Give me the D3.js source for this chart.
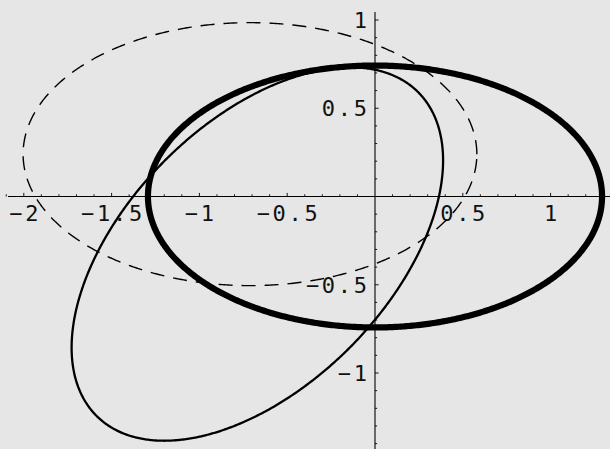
<!DOCTYPE html>
<html>
<head>
<meta charset="utf-8">
<script src="https://cdn.jsdelivr.net/npm/d3@7"></script>
<style>
html,body{margin:0;padding:0;background:#e6e6e6;}
svg{display:block;}
</style>
</head>
<body>
<svg id="chart" width="610" height="449"></svg>
<script>
// ---- data ----
const curveNames   = ["thick", "thin", "dashed"];
const centerX      = [0.000, -0.670, -0.712];
const centerY      = [0.000, -0.326,  0.240];
const semiAxisA    = [1.293,  1.296,  1.292];
const semiAxisB    = [0.742,  0.747,  0.745];
const rotationDeg  = [0, 45, 0];

const xMajorTicks  = [-2, -1.5, -1, -0.5, 0.5, 1];
const xTickLabels  = ["\u22122", "\u22121.5", "\u22121", "\u22120.5", "0.5", "1"];
const yMajorTicks  = [1, 0.5, -0.5, -1];
const yTickLabels  = ["1", "0.5", "\u22120.5", "\u22121"];

// ---- layout ----
const W = 610, H = 449;
const x0px = 375, y0px = 196.5, kx = 175.6, ky = 176.5;
const x = d3.scaleLinear().domain([-x0px / kx, (W - x0px) / kx]).range([0, W]);
const y = d3.scaleLinear().domain([-(H - y0px) / ky, y0px / ky]).range([H, 0]);

const svg = d3.select("#chart");
svg.append("rect").attr("width", W).attr("height", H).attr("fill", "#e6e6e6");

const axisColor = "#000";
const font = "'DejaVu Sans Mono', monospace";
const fs = 22, ls = 2.7;

// axes lines
svg.append("line").attr("x1", x(-2.09)).attr("x2", W).attr("y1", y(0)).attr("y2", y(0))
  .attr("stroke", axisColor).attr("stroke-width", 1.1);
svg.append("line").attr("x1", x(0)).attr("x2", x(0)).attr("y1", y(1.045)).attr("y2", H)
  .attr("stroke", axisColor).attr("stroke-width", 1.1);

// minor ticks
const xMinor = d3.range(-21, 14).map(i => i / 10).filter(v => Math.abs(v) > 1e-9);
const yMinor = d3.range(-14, 11).map(i => i / 10).filter(v => Math.abs(v) > 1e-9);
const isMajor = v => Math.abs(v * 2 - Math.round(v * 2)) < 1e-9;

svg.append("g").selectAll("line").data(xMinor).join("line")
  .attr("x1", d => x(d)).attr("x2", d => x(d))
  .attr("y1", y(0)).attr("y2", d => y(0) - (isMajor(d) ? 3.6 : 2.2))
  .attr("stroke", axisColor).attr("stroke-width", 0.9);
svg.append("g").selectAll("line").data(yMinor).join("line")
  .attr("y1", d => y(d)).attr("y2", d => y(d))
  .attr("x1", x(0)).attr("x2", d => x(0) + (isMajor(d) ? 3.6 : 2.2))
  .attr("stroke", axisColor).attr("stroke-width", 0.9);

// tick labels
svg.append("g").selectAll("text").data(xMajorTicks).join("text")
  .attr("x", d => x(d) + ls / 2).attr("y", y(0) + 24.2)
  .attr("text-anchor", "middle")
  .attr("font-family", font).attr("font-size", fs).attr("letter-spacing", ls)
  .attr("fill", "#111")
  .text((d, i) => xTickLabels[i]);
svg.append("g").selectAll("text").data(yMajorTicks).join("text")
  .attr("x", x(0) - 8 + ls).attr("y", d => y(d) + 8)
  .attr("text-anchor", "end")
  .attr("font-family", font).attr("font-size", fs).attr("letter-spacing", ls)
  .attr("fill", "#111")
  .text((d, i) => yTickLabels[i]);

// ellipses
const styles = {
  thick:  {w: 6.2, dash: null},
  thin:   {w: 2.3, dash: null},
  dashed: {w: 1.4, dash: "14,9"}
};
const line = d3.line().x(p => x(p[0])).y(p => y(p[1])).curve(d3.curveLinearClosed);
curveNames.forEach((name, i) => {
  const th = rotationDeg[i] * Math.PI / 180;
  const pts = d3.range(0, 720).map(j => {
    const t = j / 720 * 2 * Math.PI;
    const ex = semiAxisA[i] * Math.cos(t), ey = semiAxisB[i] * Math.sin(t);
    return [centerX[i] + ex * Math.cos(th) - ey * Math.sin(th),
            centerY[i] + ex * Math.sin(th) + ey * Math.cos(th)];
  });
  const st = styles[name];
  svg.append("path").attr("d", line(pts))
    .attr("fill", "none").attr("stroke", "#000")
    .attr("stroke-width", st.w)
    .attr("stroke-dasharray", st.dash)
    .attr("stroke-linejoin", "round");
});
</script>
</body>
</html>
